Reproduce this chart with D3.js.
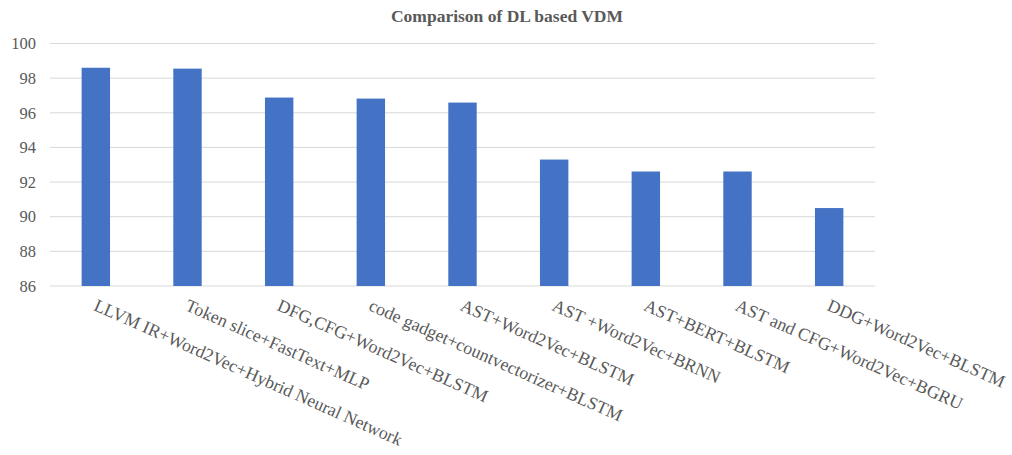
<!DOCTYPE html>
<html>
<head>
<meta charset="utf-8">
<script src="https://cdn.jsdelivr.net/npm/d3@7"></script>
<style>
  html, body { margin: 0; padding: 0; background: #fff; }
  svg { display: block; }
</style>
</head>
<body>
<svg id="chart" width="1012" height="455"></svg>
<script>
// Accuracy (%) of deep-learning based vulnerability detection methods
const categories = [
  "LLVM IR+Word2Vec+Hybrid Neural Network",
  "Token slice+FastText+MLP",
  "DFG,CFG+Word2Vec+BLSTM",
  "code gadget+countvectorizer+BLSTM",
  "AST+Word2Vec+BLSTM",
  "AST +Word2Vec+BRNN",
  "AST+BERT+BLSTM",
  "AST and CFG+Word2Vec+BGRU",
  "DDG+Word2Vec+BLSTM"
];
const accuracy = [98.6, 98.55, 96.88, 96.82, 96.59, 93.3, 92.61, 92.61, 90.5];
const yTicks = [86, 88, 90, 92, 94, 96, 98, 100];
const title = "Comparison of DL based VDM";

const svg = d3.select("#chart");
const margin = { left: 50, right: 137, top: 43.5, bottom: 169 };
const W = 1012, H = 455;

const x = d3.scaleBand()
  .domain(categories)
  .range([margin.left, W - margin.right])
  .paddingInner(0.69)
  .paddingOuter(0.345);

const y = d3.scaleLinear()
  .domain([86, 100])
  .range([H - margin.bottom, margin.top]);

const serif = "'Liberation Serif', 'Times New Roman', serif";
const textColor = "#595959";

// Title
svg.append("text")
  .attr("x", 507)
  .attr("y", 22)
  .attr("text-anchor", "middle")
  .attr("font-family", serif)
  .attr("font-weight", "bold")
  .attr("font-size", 17.5)
  .attr("fill", textColor)
  .text(title);

// Gridlines
svg.append("g")
  .selectAll("line")
  .data(yTicks)
  .join("line")
  .attr("x1", margin.left)
  .attr("x2", W - margin.right)
  .attr("y1", d => y(d))
  .attr("y2", d => y(d))
  .attr("stroke", "#d9d9d9")
  .attr("stroke-width", 1);

// Y axis labels
const yAxis = d3.axisLeft(y).tickValues(yTicks).tickSize(0).tickPadding(14);
const yg = svg.append("g")
  .attr("transform", `translate(${margin.left},0)`)
  .call(yAxis);
yg.select(".domain").remove();
yg.selectAll("text")
  .attr("font-family", serif)
  .attr("font-size", 16.5)
  .attr("fill", textColor);

// Bars
svg.append("g")
  .selectAll("rect")
  .data(categories)
  .join("rect")
  .attr("x", d => x(d))
  .attr("width", x.bandwidth())
  .attr("y", (d, i) => y(accuracy[i]))
  .attr("height", (d, i) => y(86) - y(accuracy[i]))
  .attr("fill", "#4472c4");

// Rotated category labels
svg.append("g")
  .selectAll("text")
  .data(categories)
  .join("text")
  .attr("transform", d => `translate(${x(d) + x.bandwidth() / 2 + 2},${y(86) + 12}) rotate(24)`)
  .attr("text-anchor", "start")
  .attr("dominant-baseline", "hanging")
  .attr("font-family", serif)
  .attr("font-size", 17.8)
  .attr("fill", textColor)
  .text(d => d);
</script>
</body>
</html>
